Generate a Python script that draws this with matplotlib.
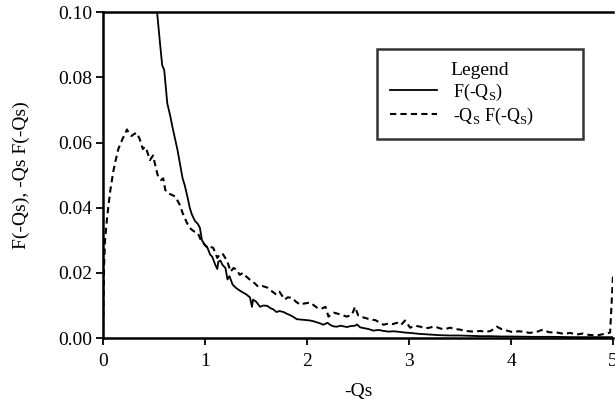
import matplotlib.pyplot as plt
import numpy as np

plt.rcParams['font.family'] = ['Liberation Serif', 'DejaVu Serif']
plt.rcParams['mathtext.fontset'] = 'custom'
plt.rcParams['mathtext.rm'] = 'Liberation Serif'

# F(-Qs) (values above 0.10 are off-scale)
f_x = [0.0, 0.05, 0.10, 0.15, 0.20, 0.25, 0.30, 0.35, 0.40, 0.45, 0.50,
       0.53, 0.56, 0.58, 0.60, 0.63, 0.66, 0.68, 0.70, 0.73, 0.76, 0.78,
       0.80, 0.83, 0.85, 0.87, 0.90, 0.93, 0.95, 0.97, 1.00, 1.02, 1.05,
       1.07, 1.10, 1.12, 1.13, 1.15, 1.17, 1.20, 1.22, 1.24, 1.27, 1.30,
       1.32, 1.34, 1.37, 1.40, 1.42, 1.44, 1.46, 1.47, 1.50, 1.54, 1.57,
       1.61, 1.64, 1.67, 1.70, 1.73, 1.77, 1.80, 1.83, 1.86, 1.90, 1.93,
       1.97, 2.00, 2.03, 2.06, 2.10, 2.13, 2.16, 2.20, 2.23, 2.26, 2.29,
       2.33, 2.36, 2.39, 2.43, 2.47, 2.49, 2.52, 2.55, 2.60, 2.65, 2.70,
       2.75, 2.80, 2.85, 2.91, 2.96, 3.01, 3.10, 3.20, 3.30, 3.40, 3.50,
       3.60, 3.70, 3.80, 3.90, 4.00, 4.20, 4.40, 4.60, 4.80, 5.00]
f_y = [1.50, 0.75, 0.52, 0.40, 0.31, 0.256, 0.21, 0.18, 0.146, 0.122, 0.108,
       0.100, 0.090, 0.0837, 0.0822, 0.0720, 0.0680, 0.0648, 0.0620, 0.0577,
       0.0525, 0.0490, 0.0470, 0.0430, 0.0400, 0.0380, 0.0360, 0.0350, 0.0338,
       0.0300, 0.0285, 0.0280, 0.0256, 0.0250, 0.0225, 0.0212, 0.0234, 0.0238,
       0.0225, 0.0215, 0.0180, 0.0190, 0.0164, 0.0155, 0.0150, 0.0146, 0.0140,
       0.0135, 0.0130, 0.0125, 0.0096, 0.0118, 0.0112, 0.0096, 0.0100, 0.0099,
       0.0092, 0.0088, 0.0080, 0.0083, 0.0080, 0.0075, 0.0071, 0.0066, 0.0058,
       0.0057, 0.0056, 0.0055, 0.0054, 0.0052, 0.0048, 0.0045, 0.0041, 0.0047,
       0.0040, 0.0036, 0.0035, 0.0038, 0.0036, 0.0034, 0.0037, 0.0038, 0.0042,
       0.0033, 0.0031, 0.0028, 0.0023, 0.0025, 0.0022, 0.0020, 0.0021, 0.0019,
       0.0017, 0.0016, 0.0013, 0.0011, 0.0009, 0.0008, 0.0008, 0.0007, 0.0006,
       0.0006, 0.0005, 0.0005, 0.0004, 0.0004, 0.0003, 0.0003, 0.0003]

# -Qs F(-Qs)
g_x = [0.0, 0.005, 0.01, 0.02, 0.04, 0.07, 0.10, 0.12, 0.15, 0.19, 0.22,
       0.235, 0.26, 0.28, 0.30, 0.33, 0.36, 0.39, 0.41, 0.43, 0.46, 0.49,
       0.52, 0.54, 0.57, 0.59, 0.61, 0.63, 0.67, 0.71, 0.75, 0.78, 0.82,
       0.85, 0.88, 0.90, 0.93, 0.96, 1.00, 1.03, 1.05, 1.08, 1.10, 1.12,
       1.14, 1.17, 1.20, 1.22, 1.25, 1.28, 1.31, 1.34, 1.37, 1.40, 1.44,
       1.48, 1.52, 1.56, 1.61, 1.65, 1.70, 1.73, 1.78, 1.81, 1.85, 1.89,
       1.93, 1.97, 2.03, 2.07, 2.10, 2.14, 2.18, 2.21, 2.26, 2.30, 2.35,
       2.39, 2.44, 2.47, 2.50, 2.52, 2.57, 2.62, 2.67, 2.71, 2.75, 2.80,
       2.84, 2.88, 2.92, 2.96, 3.01, 3.06, 3.11, 3.16, 3.20, 3.25, 3.30,
       3.35, 3.40, 3.45, 3.50, 3.55, 3.63, 3.70, 3.75, 3.80, 3.86, 3.91,
       3.96, 4.02, 4.07, 4.12, 4.18, 4.25, 4.31, 4.37, 4.45, 4.52, 4.58,
       4.64, 4.70, 4.76, 4.84, 4.90, 4.97, 5.00]
g_y = [0.0, 0.012, 0.022, 0.030, 0.037, 0.045, 0.051, 0.054, 0.058, 0.061,
       0.063, 0.064, 0.0625, 0.062, 0.0625, 0.063, 0.061, 0.058, 0.0587,
       0.0575, 0.0546, 0.056, 0.052, 0.0495, 0.0485, 0.049, 0.0455, 0.0445,
       0.0440, 0.0434, 0.0410, 0.0384, 0.0355, 0.0338, 0.0330, 0.0326, 0.0322,
       0.0300, 0.0285, 0.0275, 0.0280, 0.0277, 0.0262, 0.0246, 0.0255, 0.0260,
       0.0245, 0.0234, 0.0204, 0.0215, 0.0210, 0.0194, 0.0200, 0.0190, 0.0179,
       0.0170, 0.0158, 0.0160, 0.0155, 0.0145, 0.0133, 0.0142, 0.0118, 0.0125,
       0.0124, 0.0112, 0.0103, 0.0106, 0.0109, 0.0100, 0.0093, 0.0090, 0.0096,
       0.0066, 0.0078, 0.0075, 0.0070, 0.0066, 0.0072, 0.0096, 0.0070, 0.0066,
       0.0062, 0.0057, 0.0055, 0.0048, 0.0041, 0.0045, 0.0043, 0.0047, 0.0040,
       0.0054, 0.0032, 0.0038, 0.0035, 0.0030, 0.0032, 0.0036, 0.0030, 0.0027,
       0.0032, 0.0028, 0.0026, 0.0022, 0.0020, 0.0022, 0.0019, 0.0022, 0.0035,
       0.0027, 0.0023, 0.0018, 0.0021, 0.0020, 0.0016, 0.0019, 0.0026, 0.0018,
       0.0017, 0.0013, 0.0016, 0.0011, 0.0014, 0.0010, 0.0008, 0.0012, 0.0017,
       0.0200]

x_ticks = [0, 1, 2, 3, 4, 5]
y_ticks = [0.00, 0.02, 0.04, 0.06, 0.08, 0.10]

fig = plt.figure(figsize=(6.15, 4.03), dpi=100)
ax = fig.add_axes([0.1675, 0.161, 0.8295, 0.809])

ax.plot(f_x, f_y, color='black', lw=1.3, label=r'F(-Q$_\mathrm{S}$)')
ax.plot(g_x, g_y, color='black', lw=1.5, linestyle=(0, (3, 2)),
        label=r'-Q$_\mathrm{S}$ F(-Q$_\mathrm{S}$)')

ax.set_xlim(0, 5)
ax.set_ylim(0, 0.10)
ax.set_xticks(x_ticks)
ax.set_yticks(y_ticks)
ax.set_yticklabels(['%.2f' % v for v in y_ticks])
ax.tick_params(direction='out', length=5, width=1.3, labelsize=14)
ax.tick_params(axis='x', pad=6)
ax.tick_params(axis='y', pad=3)

for side in ['left', 'bottom', 'top']:
    ax.spines[side].set_linewidth(1.8)
ax.spines['right'].set_visible(False)

ax.set_xlabel('-Qs', fontsize=14, labelpad=9)
ax.set_ylabel('F(-Qs), -Qs F(-Qs)', fontsize=14, labelpad=20)

leg = ax.legend(title='Legend', loc='upper left',
                bbox_to_anchor=(0.537, 0.886, 0.404, 0.0), mode='expand',
                fontsize=13, title_fontsize=14, frameon=True, fancybox=False,
                handlelength=2.6, handletextpad=0.9, borderpad=0.7,
                labelspacing=0.15, borderaxespad=0)
leg.get_frame().set_edgecolor('black')
leg.get_frame().set_linewidth(1.8)

fig.savefig('out.png', dpi=100)
